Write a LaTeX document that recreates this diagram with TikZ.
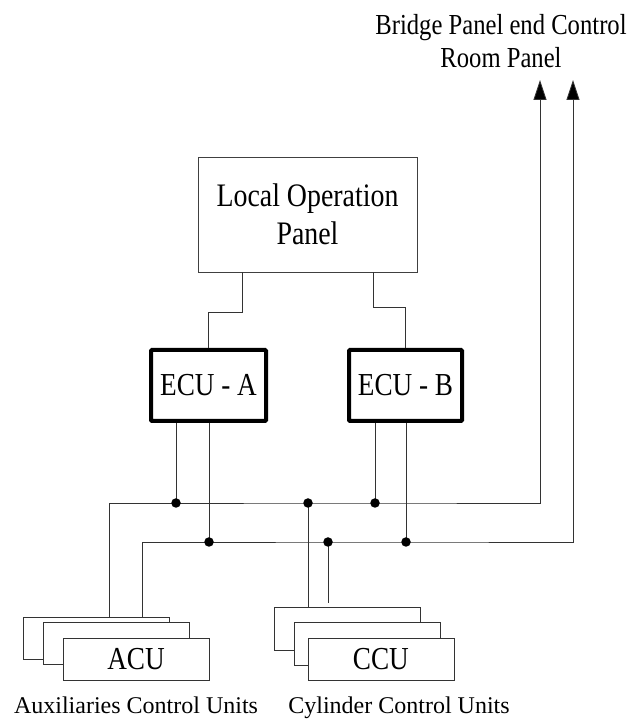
\documentclass[tikz,border=0pt]{standalone}
\usepackage{fontspec}
\setmainfont{Liberation Serif}
\newfontfamily\narrowfont{Liberation Serif}[FakeStretch=0.85]
\usetikzlibrary{arrows.meta, positioning, calc}
\tikzset{
  % Box styles
  panelbox/.style={rectangle, draw=black!75, line width=0.8pt, fill=white, minimum width=219pt, minimum height=115pt, font=\narrowfont\fontsize{32.8}{38}\selectfont, align=center, inner sep=0pt},
  ecubox/.style={rectangle, draw=black, line width=4pt, rounded corners=1pt, fill=white, minimum width=115pt, minimum height=71pt, font=\narrowfont\fontsize{32}{38}\selectfont, inner sep=0pt},
  unitbox/.style={rectangle, draw=black!80, line width=0.8pt, fill=white, minimum width=146pt, minimum height=42.5pt, font=\narrowfont\fontsize{32}{38}\selectfont, inner sep=0pt},
  labeltext/.style={font=\fontsize{24}{28}\selectfont, inner sep=0pt, anchor=base},
  % Line styles
  wire/.style={draw=black!80, line width=0.8pt},
  busarrow/.style={wire, -{Triangle[length=20pt, width=13pt, fill=black]}},
  junction/.style={circle, fill=black, inner sep=0pt, minimum size=9.5pt}
}

\begin{document}
\begin{tikzpicture}[x=1pt, y=1pt]
  \useasboundingbox (0,0) rectangle (633,720);

  % Panels and engine control units
  \node[panelbox] (lop) at (307.5,505.5) {Local Operation\\Panel};
  \node[ecubox] (ecua) at (208.5,334.5) {ECU - A};
  \node[ecubox, minimum width=113pt] (ecub) at (405.5,334.5) {ECU - B};

  \draw[wire] ([xshift=-65.5pt]lop.south) -- ++(0,-40) -| (ecua.north);
  \draw[wire] ([xshift=65.5pt]lop.south) -- ++(0,-35) -| (ecub.north);

  % Auxiliaries control units
  \node[unitbox] (acuback) at (96,81.8) {};
  \node[unitbox] (acumid) at ($(acuback)+(20,-5.3)$) {};
  \node[unitbox] (acu) at ($(acumid)+(20,-16)$) {ACU};
  \node[labeltext] (acutext) at (136,6) {Auxiliaries Control Units};

  % Cylinder control units
  \node[unitbox, minimum height=42.7pt] (ccuback) at (347.5,91.3) {};
  \node[unitbox] (ccumid) at ($(ccuback)+(20,-15.1)$) {};
  \node[unitbox] (ccu) at ($(ccumid)+(13.4,-15.7)$) {CCU};
  \node[labeltext] (ccutext) at (399,6) {Cylinder Control Units};

  % Bridge panel
  \node[font=\narrowfont\fontsize{29}{33}\selectfont, align=center, inner sep=0pt] (bridge) at (501,679) {Bridge Panel end Control\\Room Panel};

  % Bus junctions
  \coordinate (ul) at (109,217);
  \coordinate (ua) at (176,217);
  \coordinate (uc) at (308,217);
  \coordinate (ub) at (375,217);
  \coordinate (ll) at (142,178);
  \coordinate (la) at (209,178);
  \coordinate (lc) at (328,178);
  \coordinate (lb) at (406,178);
  \coordinate (t1) at (540,640);
  \coordinate (t2) at (573,640);

  % Two buses
  \draw[busarrow] (acuback.north -| ul) -- (ul) -- (ub) -| (t1);
  \draw[busarrow] (acuback.north -| ll) -- (ll) -- (lb) -| (t2);

  \draw[wire] (ecua.south -| ua) -- (ua);
  \draw[wire] (ecua.south -| la) -- (la);
  \draw[wire] (ecub.south -| ub) -- (ub);
  \draw[wire] (ecub.south -| lb) -- (lb);
  \draw[wire] (uc) -- (uc |- ccuback.north);
  \draw[wire] (lc) -- ($(lc |- ccuback.north)+(0,4)$);

  \foreach \p in {ua, uc, ub, la, lc, lb} {
    \node[junction] at (\p) {};
  }
\end{tikzpicture}
\end{document}
